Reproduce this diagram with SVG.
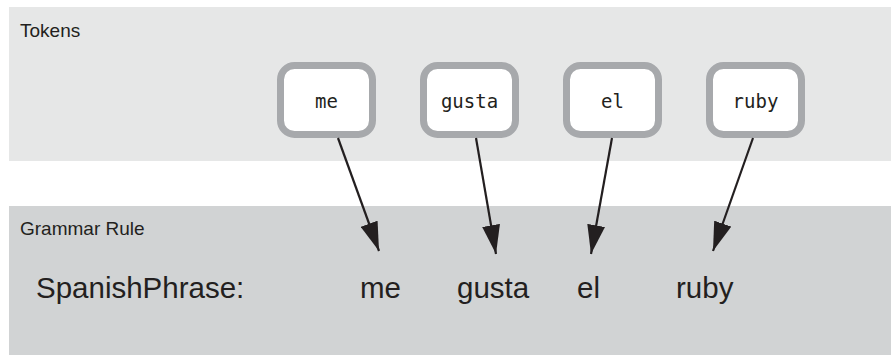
<svg xmlns="http://www.w3.org/2000/svg" width="891" height="355" viewBox="0 0 891 355">
<style>
.label{font-family:"Liberation Sans",Arial,sans-serif;font-size:19px;fill:#231f20}
.big{font-family:"Liberation Sans",Arial,sans-serif;font-size:29.5px;fill:#231f20}
.tok{font-family:"DejaVu Sans Mono","Liberation Mono",monospace;font-size:19px;fill:#231f20;text-anchor:middle}
.box{fill:#ffffff;stroke:#a7a9ac;stroke-width:7}
.conn{stroke:#231f20;stroke-width:2.2;fill:none;marker-end:url(#ah)}
</style>
<defs>
<marker id="ah" markerUnits="userSpaceOnUse" markerWidth="30" markerHeight="18" refX="29" refY="9" orient="auto">
<path d="M0,0 L29,9 L0,18 z" fill="#231f20"/>
</marker>
</defs>
<g id="tokens-panel">
<rect x="9" y="7" width="882" height="154" fill="#e6e7e7"/>
<text class="label" x="20" y="37">Tokens</text>
</g>
<g id="grammar-panel">
<rect x="9" y="206" width="882" height="149" fill="#d1d3d4"/>
<text class="label" x="20" y="235">Grammar Rule</text>
<text class="big" x="36" y="298">SpanishPhrase:</text>
<text class="big" x="360" y="298">me</text>
<text class="big" x="457" y="298">gusta</text>
<text class="big" x="577" y="298">el</text>
<text class="big" x="676" y="298">ruby</text>
</g>
<g id="token-me">
<rect class="box" x="280.5" y="65.5" width="92" height="69" rx="14"/>
<text class="tok" x="326.5" y="107.5">me</text>
</g>
<g id="token-gusta">
<rect class="box" x="423.5" y="65.5" width="92" height="69" rx="14"/>
<text class="tok" x="469.5" y="107.5">gusta</text>
</g>
<g id="token-el">
<rect class="box" x="566.5" y="65.5" width="92" height="69" rx="14"/>
<text class="tok" x="612.5" y="107.5">el</text>
</g>
<g id="token-ruby">
<rect class="box" x="709.5" y="65.5" width="92" height="69" rx="14"/>
<text class="tok" x="755.5" y="107.5">ruby</text>
</g>
<g id="connectors">
<line class="conn" x1="338" y1="138" x2="379" y2="251"/>
<line class="conn" x1="476" y1="138" x2="496" y2="254"/>
<line class="conn" x1="612" y1="138" x2="591" y2="254"/>
<line class="conn" x1="753" y1="138" x2="713" y2="251"/>
</g>
</svg>
